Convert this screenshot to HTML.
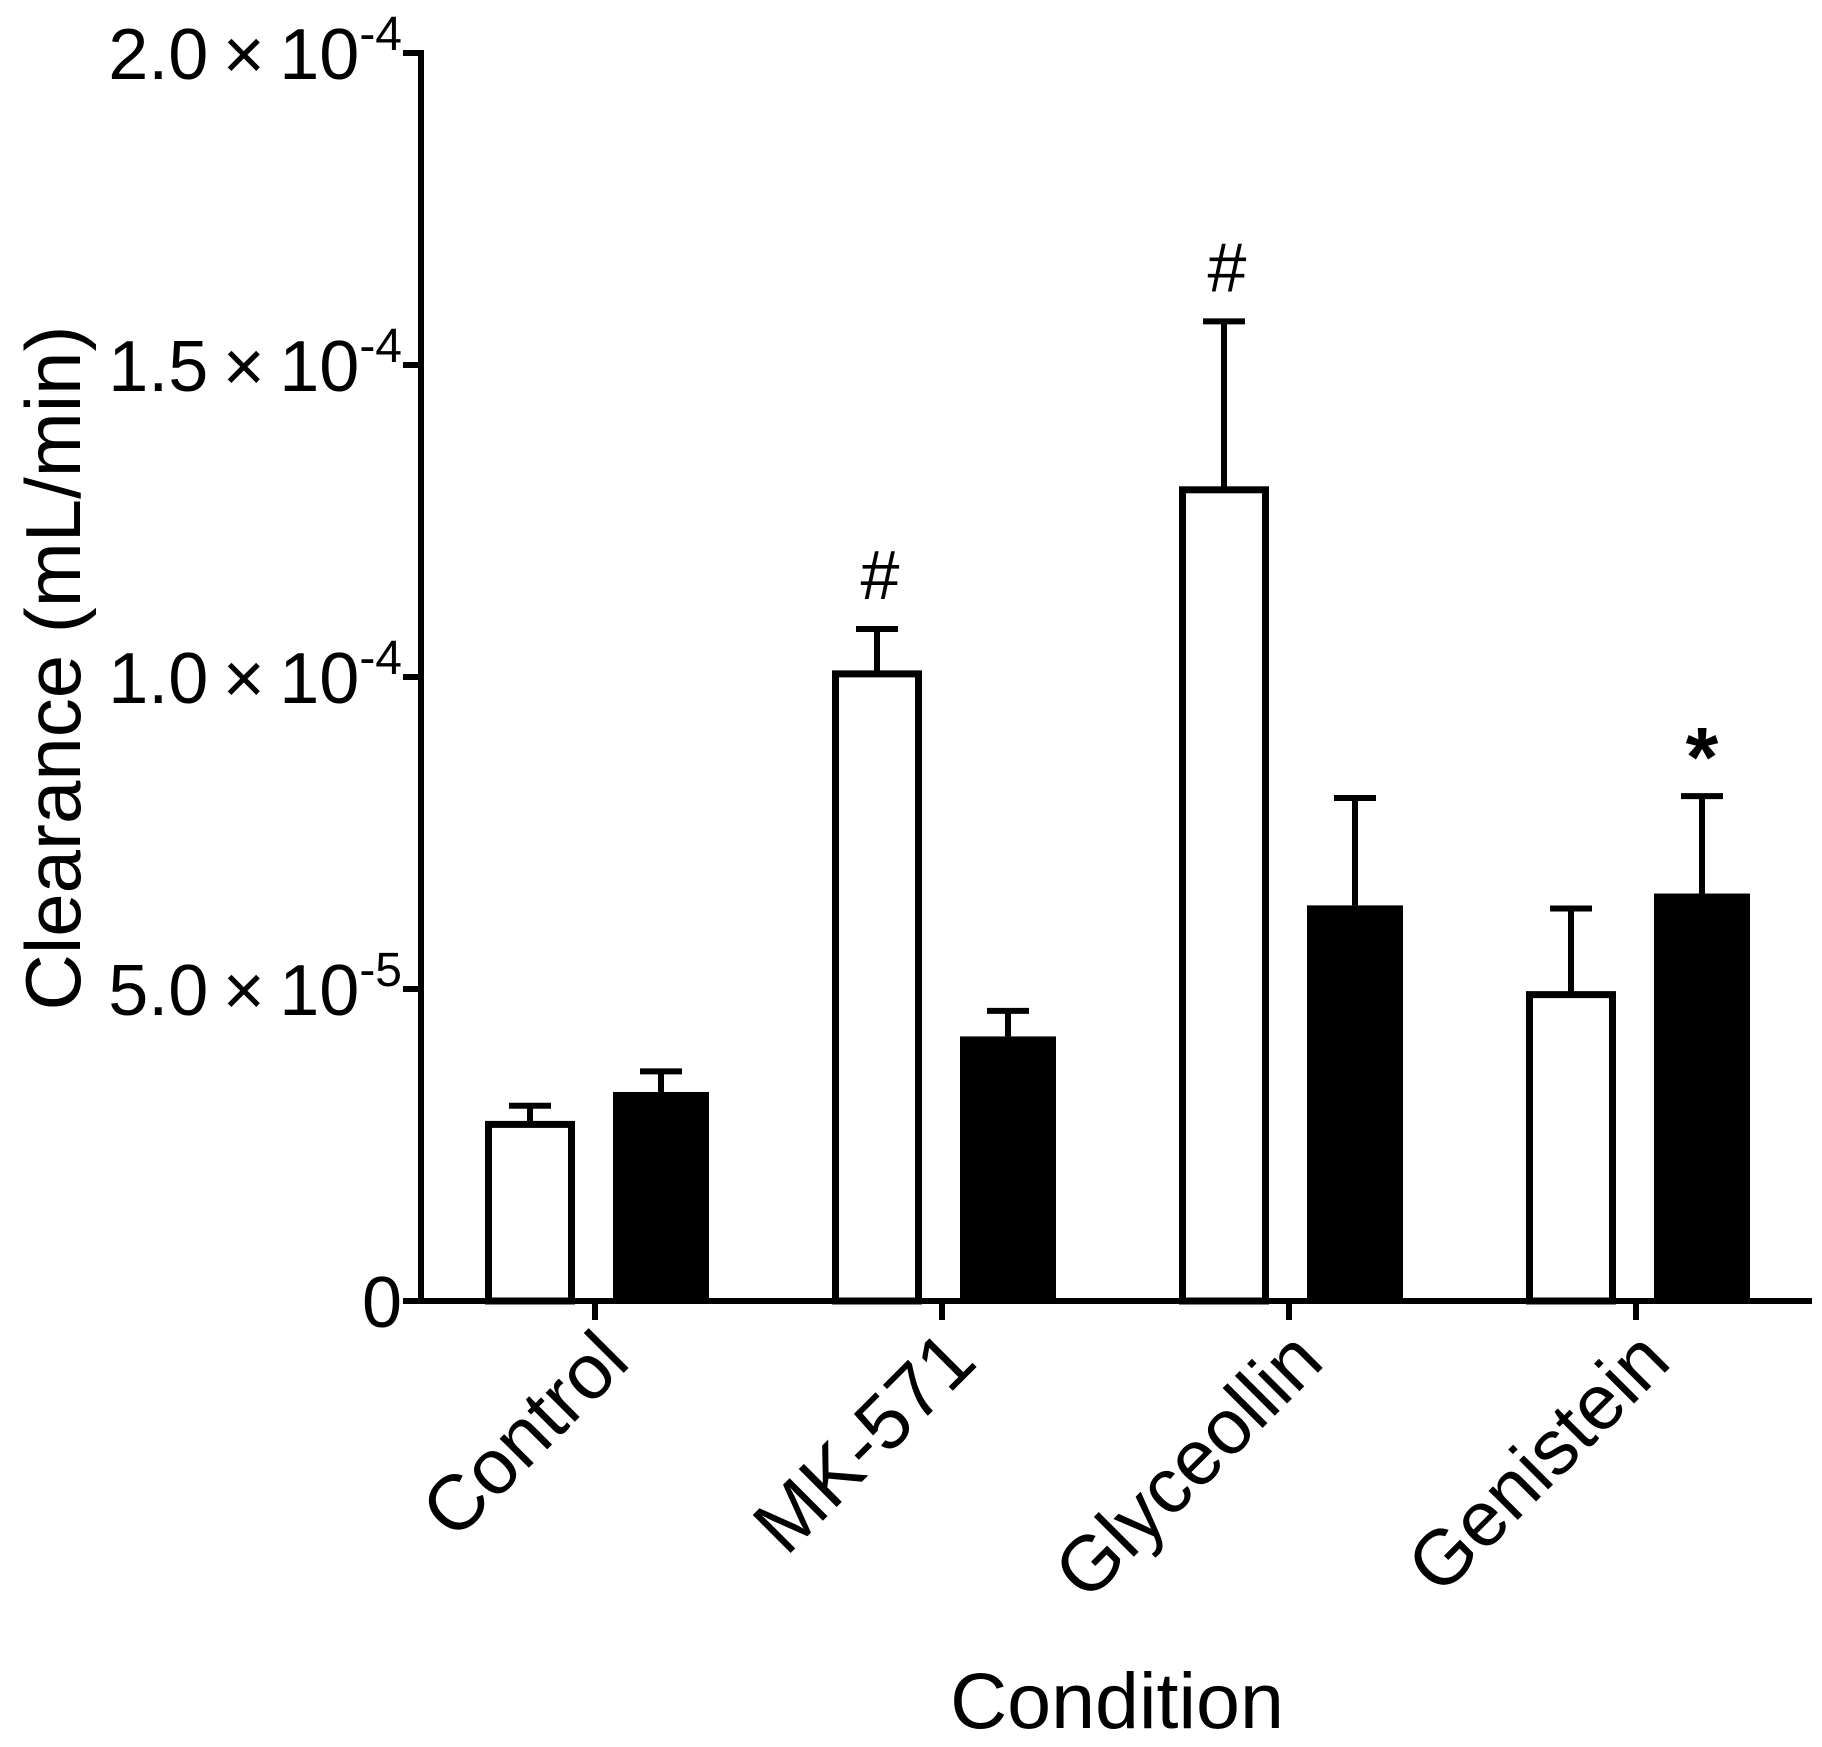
<!DOCTYPE html>
<html><head><meta charset="utf-8"><style>
html,body{margin:0;padding:0;background:#fff;}
svg{display:block;font-family:"Liberation Sans",Arial,sans-serif;}
</style></head><body>
<svg id="chart" width="1822" height="1747" viewBox="0 0 1822 1747" xmlns="http://www.w3.org/2000/svg">
<g id="plot"></g>
</svg>
<script>
const categories = ["Control", "MK-571", "Glyceollin", "Genistein"];
const whiteValues = [2.83e-5, 1.005e-4, 1.30e-4, 4.91e-5];
const whiteErrors = [0.30e-5, 0.72e-5, 2.70e-5, 1.38e-5];
const blackValues = [3.35e-5, 4.24e-5, 6.34e-5, 6.53e-5];
const blackErrors = [0.33e-5, 0.41e-5, 1.72e-5, 1.56e-5];
const whiteMarks = ["", "#", "#", ""];
const blackMarks = ["", "", "", "*"];
const yTickValues = [0, 5e-5, 1e-4, 1.5e-4, 2e-4];
const yTickMantissa = ["0", "5.0", "1.0", "1.5", "2.0"];
const yTickExp = ["", "-5", "-4", "-4", "-4"];

const NS = "http://www.w3.org/2000/svg";
const g = document.getElementById("plot");
const x0 = 421, x1 = 1812, yBase = 1301, yTop = 53, yMax = 2e-4;
const ys = v => yBase - (v / yMax) * (yBase - yTop);
const xc = i => 595 + i * 347;
function mk(tag, attrs, parent) {
  const e = document.createElementNS(NS, tag);
  for (const k in attrs) e.setAttribute(k, attrs[k]);
  (parent || g).appendChild(e);
  return e;
}
let yAxis = mk("line", {x1: x0, y1: yTop - 3, x2: x0, y2: yBase + 3, stroke: "#000", "stroke-width": 6});


let xAxis = mk("line", {x1: x0 - 3, y1: yBase, x2: x1, y2: yBase, stroke: "#000", "stroke-width": 6});



yTickValues.forEach((v, i) => {
  const y = ys(v);
  const t = mk("line", {x1: x0 - 18, y1: y, x2: x0, y2: y, stroke: "#000", "stroke-width": 6});
  
  
  const tx = mk("text", {x: 402, y: y + 26, "text-anchor": "end", "font-size": 72, fill: "#000"});
  
  
  if (yTickExp[i]) {
    const a = mk("tspan", {}, tx); a.textContent = yTickMantissa[i] + "\u2009\u00d7\u200910";
    const b = mk("tspan", {dy: -29, "font-size": 48}, tx); b.textContent = yTickExp[i];
  } else {
    tx.textContent = yTickMantissa[i];
  }
});

categories.forEach((c, i) => {
  const cx = xc(i);
  const t = mk("line", {x1: cx, y1: yBase, x2: cx, y2: yBase + 19, stroke: "#000", "stroke-width": 6});
  
  
  const lbl = mk("text", {transform: `translate(${cx + 18},${yBase + 44}) rotate(-45)`, "text-anchor": "end", "font-size": 78, fill: "#000", dy: "0.35em"});
  
  
  lbl.textContent = c;

  const wx = cx - 65, bw = 90;
  const wTop = ys(whiteValues[i]);
  const we = ys(whiteValues[i] + whiteErrors[i]);
  const el1 = mk("line", {x1: wx, y1: wTop, x2: wx, y2: we, stroke: "#000", "stroke-width": 6});
  
  
  const cap1 = mk("line", {x1: wx - 21, y1: we, x2: wx + 21, y2: we, stroke: "#000", "stroke-width": 6});
  
  
  const r1 = mk("rect", {x: wx - bw / 2 + 3.5, y: wTop, width: bw - 7, height: yBase - wTop, fill: "#fff", stroke: "#000", "stroke-width": 7});
  
  
  if (whiteMarks[i]) {
    const m = mk("text", {x: wx + 3, y: we - 30, "text-anchor": "middle", "font-size": 70, fill: "#000"});
    
    
    m.textContent = whiteMarks[i];
  }
  const bx = cx + 66;
  const bTop = ys(blackValues[i]);
  const be = ys(blackValues[i] + blackErrors[i]);
  const el2 = mk("line", {x1: bx, y1: bTop, x2: bx, y2: be, stroke: "#000", "stroke-width": 6});
  
  
  const cap2 = mk("line", {x1: bx - 21, y1: be, x2: bx + 21, y2: be, stroke: "#000", "stroke-width": 6});
  
  
  const r2 = mk("rect", {x: bx - 48, y: bTop, width: 96, height: yBase - bTop, fill: "#000"});
  
  
  if (blackMarks[i]) {
    const m = mk("text", {x: bx, y: be - 10, "text-anchor": "middle", "font-size": 84, "font-weight": "bold", fill: "#000"});
    
    
    m.textContent = blackMarks[i];
  }
});

const yt = mk("text", {transform: "translate(80,668) rotate(-90)", "text-anchor": "middle", "font-size": 78, fill: "#000"});


yt.textContent = "Clearance (mL/min)";
const xt = mk("text", {x: 1117, y: 1728, "text-anchor": "middle", "font-size": 79, fill: "#000"});


xt.textContent = "Condition";
</script>
</body></html>
